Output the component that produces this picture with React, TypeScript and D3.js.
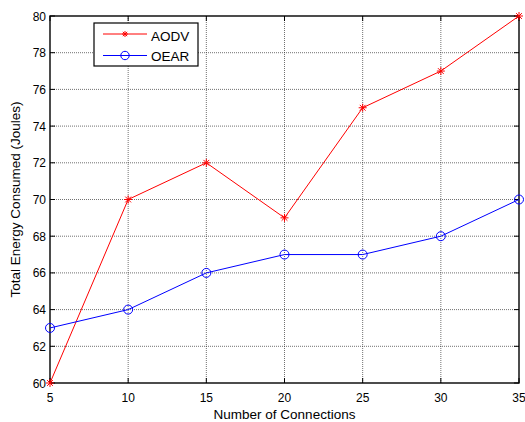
import React from "react";
import * as d3 from "d3";

const connections = [5, 10, 15, 20, 25, 30, 35];
const aodv = [60, 70, 72, 69, 75, 77, 80];
const oear = [63, 64, 66, 67, 67, 68, 70];
const xTicks = [5, 10, 15, 20, 25, 30, 35];
const yTicks = [60, 62, 64, 66, 68, 70, 72, 74, 76, 78, 80];

const W = 525;
const H = 422;
const M = { left: 50, right: 6, top: 16, bottom: 39 };

export default function App() {
  const x = d3.scaleLinear().domain([5, 35]).range([M.left, W - M.right]);
  const y = d3.scaleLinear().domain([60, 80]).range([H - M.bottom, M.top]);
  const line = d3
    .line<number>()
    .x((_, i) => x(connections[i]))
    .y((d) => y(d));
  const x0 = M.left, x1 = W - M.right, y0 = H - M.bottom, y1 = M.top;
  const font = "Liberation Sans, Arial, sans-serif";
  const star = (cx: number, cy: number, k: string, r = 4) => {
    const d = r * 0.72;
    return (
      <g key={k} stroke="#ff0000" strokeWidth={1}>
        <line x1={cx - r} y1={cy} x2={cx + r} y2={cy} />
        <line x1={cx} y1={cy - r} x2={cx} y2={cy + r} />
        <line x1={cx - d} y1={cy - d} x2={cx + d} y2={cy + d} />
        <line x1={cx - d} y1={cy + d} x2={cx + d} y2={cy - d} />
      </g>
    );
  };
  return (
    <div style={{ position: "absolute", left: 0, top: 0 }}>
      <svg width={W} height={H} style={{ display: "block", background: "#fff" }}>
        <rect x={0} y={0} width={W} height={H} fill="#fff" />
        {/* grid */}
        {xTicks.slice(1, -1).map((t) => (
          <line key={"gx" + t} x1={x(t)} x2={x(t)} y1={y0} y2={y1} stroke="#333" strokeWidth={0.7} strokeDasharray="1,1" />
        ))}
        {yTicks.slice(1, -1).map((t) => (
          <line key={"gy" + t} x1={x0} x2={x1} y1={y(t)} y2={y(t)} stroke="#333" strokeWidth={0.7} strokeDasharray="1,1" />
        ))}
        {/* ticks */}
        {xTicks.map((t) => (
          <g key={"tx" + t}>
            <line x1={x(t)} x2={x(t)} y1={y0} y2={y0 - 5} stroke="#000" />
            <line x1={x(t)} x2={x(t)} y1={y1} y2={y1 + 5} stroke="#000" />
            <text x={x(t)} y={y0 + 19} textAnchor="middle" fontFamily={font} fontSize={12} fill="#000">{t}</text>
          </g>
        ))}
        {yTicks.map((t) => (
          <g key={"ty" + t}>
            <line x1={x0} x2={x0 + 5} y1={y(t)} y2={y(t)} stroke="#000" />
            <line x1={x1} x2={x1 - 5} y1={y(t)} y2={y(t)} stroke="#000" />
            <text x={x0 - 4} y={y(t) + 4.5} textAnchor="end" fontFamily={font} fontSize={12} fill="#000">{t}</text>
          </g>
        ))}
        {/* axes box */}
        <rect x={x0} y={y1} width={x1 - x0} height={y0 - y1} fill="none" stroke="#000" strokeWidth={1.4} />
        {/* series */}
        <path d={line(aodv) || ""} fill="none" stroke="#ff0000" strokeWidth={1} />
        {aodv.map((v, i) => star(x(connections[i]), y(v), "s" + i))}
        <path d={line(oear) || ""} fill="none" stroke="#0000ff" strokeWidth={1} />
        {oear.map((v, i) => (
          <circle key={"c" + i} cx={x(connections[i])} cy={y(v)} r={4.5} fill="none" stroke="#0000ff" strokeWidth={1} />
        ))}
        {/* legend */}
        <rect x={94} y={23} width={104} height={43} fill="#fff" stroke="#000" strokeWidth={1.2} />
        <line x1={103} x2={147} y1={34} y2={34} stroke="#ff0000" />
        {star(125, 34, "ls", 3)}
        <text x={151} y={40.5} fontFamily={font} fontSize={13.5} fill="#000">AODV</text>
        <line x1={103} x2={147} y1={55.5} y2={55.5} stroke="#0000ff" />
        <circle cx={125} cy={55.5} r={4.2} fill="none" stroke="#0000ff" />
        <text x={151} y={60.5} fontFamily={font} fontSize={13.5} fill="#000">OEAR</text>
        {/* labels */}
        <text x={(x0 + x1) / 2} y={419} textAnchor="middle" fontFamily={font} fontSize={13.5} fill="#000">Number of Connections</text>
        <text transform={`translate(20, ${(y0 + y1) / 2}) rotate(-90)`} textAnchor="middle" fontFamily={font} fontSize={13.5} fill="#000">Total Energy Consumed (Joules)</text>
      </svg>
    </div>
  );
}
